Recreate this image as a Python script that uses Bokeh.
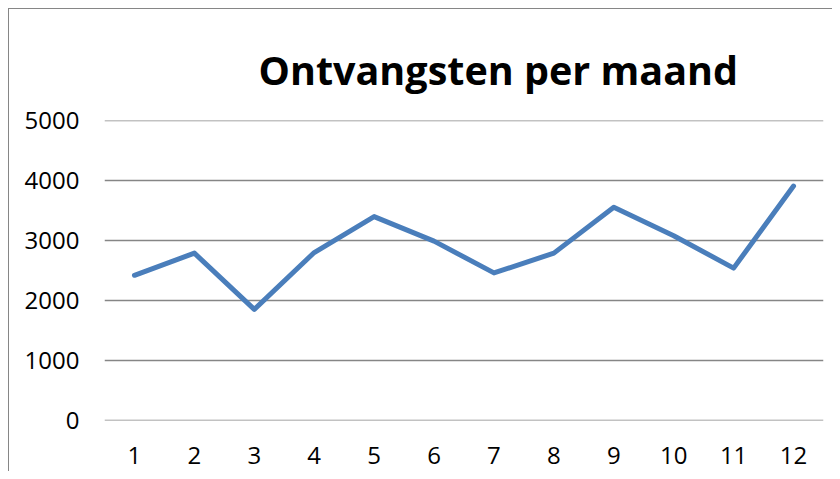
from bokeh.plotting import figure
from bokeh.models import FactorRange, Range1d, FixedTicker
from bokeh.embed import file_html
from bokeh.resources import INLINE

months = ["1", "2", "3", "4", "5", "6", "7", "8", "9", "10", "11", "12"]
receipts = [2420, 2790, 1850, 2800, 3400, 2990, 2460, 2790, 3555, 3080, 2540, 3910]
y_ticks = [0, 1000, 2000, 3000, 4000, 5000]
title_text = "Ontvangsten per maand"

FONT = "Open Sans"

p = figure(
    x_range=FactorRange(*months),
    y_range=Range1d(-4, 5004),
    frame_width=719, frame_height=300,
    min_border_left=95, min_border_top=111, min_border_right=9, min_border_bottom=51,
    output_backend="svg", toolbar_location=None,
    title=title_text,
)
p.styles = {"border-left": "1px solid #868686", "border-top": "1px solid #868686",
            "margin-left": "8px", "margin-top": "8px"}
p.outline_line_color = None
p.background_fill_color = "white"
p.border_fill_color = "white"

p.title.align = "left"
p.title.offset = 154
p.title.standoff = 48
p.title.text_font = FONT
p.title.text_font_style = "bold"
p.title.text_font_size = "39.5px"
p.title.text_color = "black"

p.line(months, receipts, line_color="#4A7EBB", line_width=5, line_join="round", line_cap="round")

p.yaxis.ticker = FixedTicker(ticks=y_ticks)
for ax in (p.xaxis[0], p.yaxis[0]):
    ax.axis_line_color = None
    ax.major_tick_line_color = None
    ax.minor_tick_line_color = None
    ax.major_label_text_font = FONT
    ax.major_label_text_font_size = "24px"
    ax.major_label_text_color = "black"
p.yaxis.major_label_standoff = 19
p.xaxis.major_label_standoff = 20

p.xgrid.grid_line_color = None
p.ygrid.grid_line_color = "#868686"
p.ygrid.grid_line_width = 1.5

open("out.html", "w").write(file_html(p, INLINE))
